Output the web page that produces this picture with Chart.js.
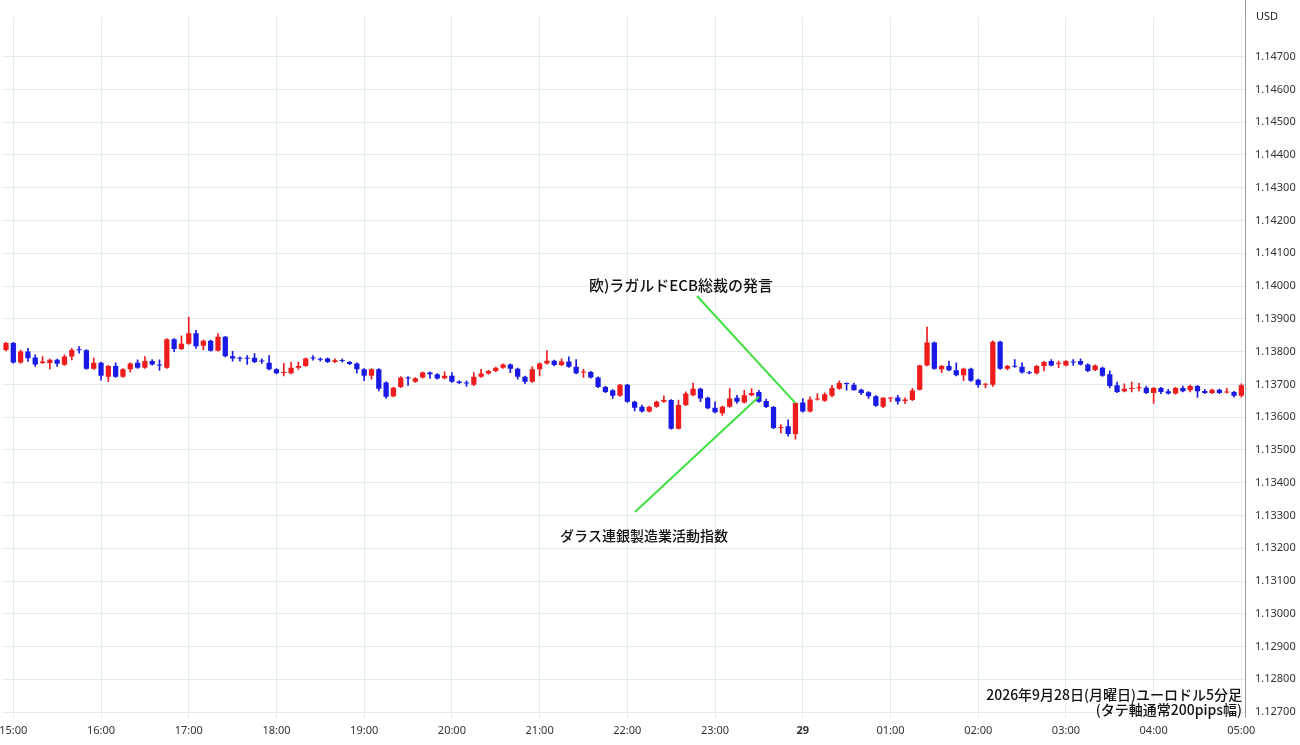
<!DOCTYPE html>
<html><head><meta charset="utf-8">
<script src="https://cdn.jsdelivr.net/npm/chart.js@4/dist/chart.umd.min.js"></script>
<style>html,body{margin:0;padding:0;background:#fff}#wrap{width:1300px;height:745px}</style>
</head><body><div id="wrap"><canvas id="c"></canvas></div>
<script>
const hourTicks=['15:00','16:00','17:00','18:00','19:00','20:00','21:00','22:00','23:00','29','01:00','02:00','03:00','04:00','05:00'];
const opens=[1.13805,1.13826,1.13767,1.13800,1.13782,1.13765,1.13765,1.13775,1.13760,1.13785,
1.13806,1.13804,1.13748,1.13766,1.13723,1.13756,1.13723,1.13746,1.13766,1.13751,
1.13771,1.13760,1.13751,1.13838,1.13808,1.13824,1.13856,1.13818,1.13833,1.13803,
1.13845,1.13786,1.13779,1.13779,1.13781,1.13771,1.13766,1.13746,1.13735,1.13734,
1.13751,1.13756,1.13780,1.13776,1.13779,1.13768,1.13774,1.13768,1.13764,1.13746,
1.13726,1.13746,1.13706,1.13664,1.13692,1.13719,1.13708,1.13721,1.13736,1.13731,
1.13719,1.13726,1.13709,1.13704,1.13699,1.13723,1.13733,1.13741,1.13751,1.13761,
1.13748,1.13723,1.13708,1.13746,1.13764,1.13772,1.13759,1.13770,1.13754,1.13736,
1.13738,1.13721,1.13692,1.13682,1.13665,1.13699,1.13647,1.13632,1.13617,1.13632,
1.13647,1.13652,1.13565,1.13637,1.13667,1.13687,1.13659,1.13629,1.13612,1.13632,
1.13659,1.13645,1.13667,1.13677,1.13649,1.13631,1.13567,1.13572,1.13549,1.13645,
1.13617,1.13654,1.13650,1.13665,1.13687,1.13703,1.13699,1.13684,1.13676,1.13664,
1.13632,1.13657,1.13660,1.13649,1.13652,1.13684,1.13758,1.13828,1.13746,1.13756,
1.13743,1.13728,1.13748,1.13714,1.13699,1.13699,1.13830,1.13748,1.13756,1.13754,
1.13735,1.13734,1.13756,1.13771,1.13763,1.13758,1.13769,1.13771,1.13761,1.13744,
1.13751,1.13731,1.13697,1.13679,1.13686,1.13688,1.13690,1.13674,1.13689,1.13679,
1.13672,1.13689,1.13682,1.13695,1.13680,1.13674,1.13684,1.13675,1.13677,1.13665];
const highs=[1.13828,1.13828,1.13805,1.13810,1.13790,1.13785,1.13777,1.13777,1.13790,1.13810,
1.13815,1.13806,1.13780,1.13768,1.13758,1.13766,1.13748,1.13766,1.13775,1.13785,
1.13776,1.13775,1.13840,1.13840,1.13848,1.13905,1.13865,1.13835,1.13835,1.13855,
1.13847,1.13801,1.13784,1.13788,1.13794,1.13778,1.13788,1.13748,1.13764,1.13768,
1.13768,1.13781,1.13788,1.13781,1.13781,1.13778,1.13778,1.13770,1.13766,1.13748,
1.13748,1.13748,1.13708,1.13692,1.13724,1.13724,1.13721,1.13738,1.13738,1.13733,
1.13738,1.13736,1.13711,1.13711,1.13736,1.13746,1.13743,1.13753,1.13763,1.13763,
1.13750,1.13725,1.13754,1.13766,1.13803,1.13774,1.13778,1.13784,1.13776,1.13746,
1.13740,1.13723,1.13694,1.13684,1.13700,1.13700,1.13649,1.13637,1.13634,1.13649,
1.13665,1.13654,1.13652,1.13677,1.13704,1.13689,1.13661,1.13647,1.13634,1.13687,
1.13667,1.13682,1.13687,1.13682,1.13655,1.13633,1.13577,1.13592,1.13645,1.13657,
1.13662,1.13672,1.13674,1.13697,1.13711,1.13705,1.13704,1.13686,1.13678,1.13666,
1.13660,1.13660,1.13667,1.13659,1.13688,1.13759,1.13875,1.13830,1.13758,1.13771,
1.13766,1.13750,1.13750,1.13716,1.13703,1.13833,1.13832,1.13758,1.13776,1.13766,
1.13740,1.13758,1.13770,1.13776,1.13771,1.13773,1.13776,1.13778,1.13763,1.13760,
1.13753,1.13741,1.13707,1.13702,1.13707,1.13703,1.13695,1.13691,1.13691,1.13685,
1.13691,1.13695,1.13698,1.13697,1.13685,1.13686,1.13686,1.13689,1.13679,1.13702];
const lows=[1.13802,1.13765,1.13764,1.13770,1.13755,1.13763,1.13747,1.13755,1.13758,1.13775,
1.13795,1.13746,1.13746,1.13713,1.13708,1.13721,1.13721,1.13737,1.13749,1.13749,
1.13759,1.13743,1.13749,1.13800,1.13806,1.13822,1.13810,1.13805,1.13801,1.13801,
1.13784,1.13771,1.13771,1.13761,1.13766,1.13764,1.13744,1.13732,1.13726,1.13732,
1.13746,1.13755,1.13774,1.13771,1.13766,1.13766,1.13768,1.13760,1.13734,1.13711,
1.13716,1.13680,1.13657,1.13662,1.13690,1.13697,1.13706,1.13719,1.13718,1.13716,
1.13717,1.13706,1.13702,1.13694,1.13696,1.13721,1.13731,1.13739,1.13749,1.13736,
1.13716,1.13702,1.13706,1.13726,1.13762,1.13756,1.13757,1.13752,1.13732,1.13721,
1.13719,1.13690,1.13675,1.13657,1.13663,1.13645,1.13619,1.13615,1.13615,1.13630,
1.13645,1.13563,1.13563,1.13635,1.13665,1.13647,1.13625,1.13613,1.13605,1.13630,
1.13642,1.13643,1.13665,1.13645,1.13629,1.13565,1.13552,1.13542,1.13533,1.13615,
1.13615,1.13652,1.13648,1.13662,1.13685,1.13682,1.13682,1.13669,1.13657,1.13633,
1.13629,1.13647,1.13640,1.13641,1.13650,1.13682,1.13756,1.13746,1.13736,1.13741,
1.13726,1.13711,1.13709,1.13691,1.13689,1.13694,1.13746,1.13744,1.13752,1.13734,
1.13732,1.13731,1.13741,1.13756,1.13751,1.13756,1.13758,1.13759,1.13739,1.13742,
1.13724,1.13689,1.13675,1.13677,1.13677,1.13680,1.13672,1.13642,1.13672,1.13670,
1.13670,1.13677,1.13677,1.13660,1.13672,1.13672,1.13672,1.13673,1.13661,1.13661];
const closes=[1.13826,1.13767,1.13800,1.13780,1.13761,1.13770,1.13775,1.13763,1.13785,1.13805,
1.13804,1.13748,1.13766,1.13726,1.13756,1.13723,1.13746,1.13764,1.13751,1.13771,
1.13761,1.13758,1.13838,1.13808,1.13824,1.13856,1.13816,1.13833,1.13803,1.13845,
1.13786,1.13779,1.13778,1.13778,1.13768,1.13770,1.13746,1.13734,1.13736,1.13751,
1.13756,1.13779,1.13779,1.13775,1.13768,1.13774,1.13771,1.13762,1.13746,1.13726,
1.13746,1.13687,1.13662,1.13690,1.13721,1.13718,1.13719,1.13736,1.13731,1.13718,
1.13726,1.13708,1.13704,1.13703,1.13723,1.13733,1.13741,1.13751,1.13761,1.13748,
1.13723,1.13708,1.13746,1.13764,1.13772,1.13759,1.13770,1.13754,1.13734,1.13738,
1.13721,1.13692,1.13677,1.13665,1.13699,1.13647,1.13629,1.13617,1.13632,1.13647,
1.13652,1.13565,1.13637,1.13672,1.13687,1.13657,1.13627,1.13615,1.13632,1.13657,
1.13647,1.13667,1.13674,1.13647,1.13631,1.13567,1.13570,1.13549,1.13643,1.13617,
1.13654,1.13657,1.13670,1.13689,1.13704,1.13701,1.13682,1.13674,1.13664,1.13635,
1.13659,1.13659,1.13648,1.13654,1.13681,1.13758,1.13828,1.13748,1.13756,1.13743,
1.13728,1.13748,1.13711,1.13698,1.13701,1.13830,1.13748,1.13756,1.13754,1.13736,
1.13734,1.13756,1.13768,1.13758,1.13765,1.13771,1.13767,1.13761,1.13741,1.13758,
1.13726,1.13695,1.13677,1.13687,1.13688,1.13689,1.13674,1.13689,1.13677,1.13672,
1.13689,1.13679,1.13695,1.13679,1.13674,1.13684,1.13674,1.13677,1.13665,1.13697];

const labels=[];
for(let i=0;i<opens.length;i++){const m=(14*60+55+5*i)%1440;const h=Math.floor(m/60),mm=m%60;
  labels.push(h===0&&mm===0?'29':String(h).padStart(2,'0')+':'+String(mm).padStart(2,'0'));}
const RED='#ee1c1c',BLUE='#1a1ae6';
const col=opens.map((o,i)=>closes[i]>=o?RED:BLUE);

const annot={id:'annot',afterDatasetsDraw(ch){
  const c=ch.ctx,x=ch.scales.x,y=ch.scales.y;
  c.save();c.strokeStyle='#3ee03e';c.lineWidth=2;
  c.beginPath();c.moveTo(697,296);c.lineTo(x.getPixelForValue(108),y.getPixelForValue(1.13643));c.stroke();
  c.beginPath();c.moveTo(635,512);c.lineTo(x.getPixelForValue(103),y.getPixelForValue(1.13662));c.stroke();
  c.fillStyle='#111';c.font='500 15px "Noto Sans CJK JP"';c.textBaseline='middle';c.textAlign='center';
  c.fillText('欧)ラガルドECB総裁の発言',681,285);
  c.font='500 14px "Noto Sans CJK JP"';
  c.fillText('ダラス連銀製造業活動指数',644,536);
  c.textAlign='right';
  c.fillText('2026年9月28日(月曜日)ユーロドル5分足',1242,695);
  c.fillText('(タテ軸通常200pips幅)',1242,710);
  c.textAlign='left';c.font='11px "Noto Sans"';c.fillStyle='#222';
  c.fillText('USD',1256,17);
  c.strokeStyle='#999';c.lineWidth=1;c.beginPath();c.moveTo(ch.chartArea.right+0.5,0);c.lineTo(ch.chartArea.right+0.5,ch.chartArea.bottom);c.stroke();
  c.restore();}};

new Chart(document.getElementById('c'),{
  type:'bar',
  data:{labels,datasets:[
    {data:lows.map((l,i)=>[l,highs[i]]),backgroundColor:col,barThickness:1,grouped:false,order:2},
    {data:opens.map((o,i)=>[o,closes[i]]),backgroundColor:col,barPercentage:0.72,categoryPercentage:1,grouped:false,minBarLength:1,order:1}
  ]},
  options:{responsive:true,maintainAspectRatio:false,animation:false,
    layout:{padding:0},
    plugins:{legend:{display:false},tooltip:{enabled:false}},
    scales:{
      x:{offset:true,
        grid:{offset:false,drawTicks:false,color:ctx=>hourTicks.includes(labels[ctx.index])?'#e3ecef':'rgba(0,0,0,0)'},
        border:{display:false},
        ticks:{autoSkip:false,maxRotation:0,padding:6,color:'#333',
          font:ctx=>({size:11,family:'"Noto Sans"',weight:labels[ctx.index]==='29'?'bold':'normal'}),
          callback:(v,i)=>hourTicks.includes(labels[i])?labels[i]:''},
        afterFit:s=>{s.height=27;}},
      y:{position:'right',min:1.126821,max:1.148222,
        grid:{color:'#e3ecef',drawTicks:false},border:{display:false},
        afterBuildTicks:s=>{const t=[];for(let k=1127;k<=1147;k++)t.push({value:k/1000});s.ticks=t;},
        ticks:{padding:10,color:'#333',font:{size:11,family:'"Noto Sans"'},callback:v=>v.toFixed(5)},
        afterFit:s=>{s.width=55;}}
    }},
  plugins:[annot]});
</script></body></html>
